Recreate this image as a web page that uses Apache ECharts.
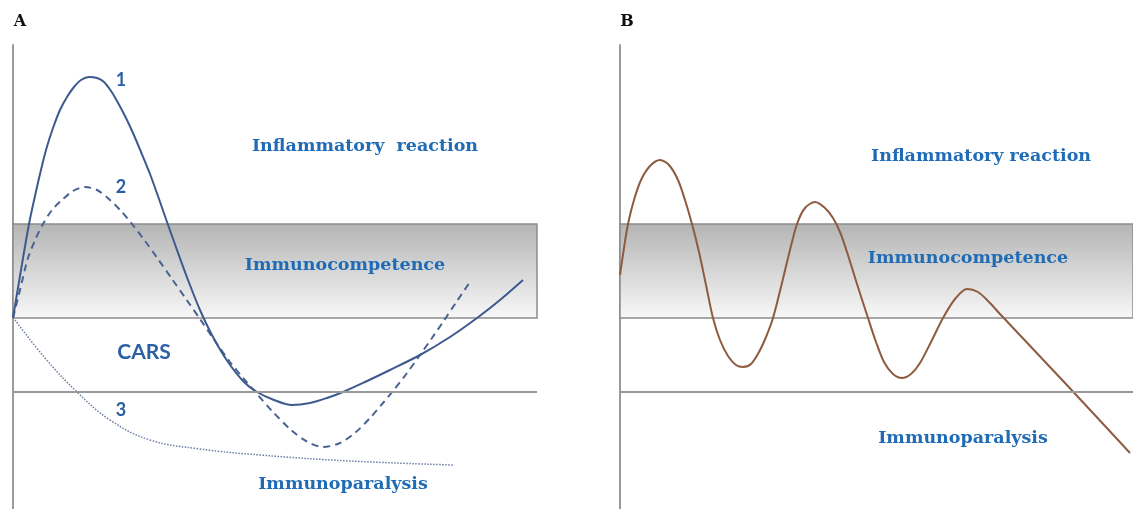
<!DOCTYPE html>
<html><head><meta charset="utf-8">
<script src="https://cdn.jsdelivr.net/npm/echarts@6/dist/echarts.min.js"></script>
<style>html,body{margin:0;padding:0;background:#fff}#c{width:1133px;height:509px}</style>
</head><body><div id="c"></div>
<script>
// Panel A curves: [time, response level]
var curve1 = [[0,191],[8,239],[16,285],[22,313],[27,335],[33,359],[40,381],[47,399],[54,412],[61,422],[68,429],[76,432],[84,431],[91,427],[98,418],[104,408],[112,393],[120,376],[128,357],[137,335],[146,310],[154,287],[164,259],[175,229],[187,199],[200,172],[215,147],[231,127],[244,117],[261,109],[279,104],[297,106],[314,111],[330,117],[352,127],[377,139],[407,154],[437,172],[464,191],[487,209],[510,229]];
var curve2 = [[0,191],[7,219],[15,251],[23,271],[30,285],[39,299],[49,309],[60,318],[72,322],[84,319],[97,309],[108,298],[119,285],[132,268],[145,250],[159,230],[173,210],[187,190],[202,168],[217,147],[231,130],[244,115],[259,98],[277,80],[293,68],[310,62],[327,66],[343,77],[357,91],[370,106],[380,118],[394,136],[407,154],[419,171],[430,187],[444,208],[457,227]];
var curve3 = [[2,189],[32,151],[64,117],[97,89],[137,69],[187,60],[247,54],[337,48],[440,44]];
// Panel B curve
var curveB = [[0,234],[4,261],[8,285],[14,309],[21,329],[30,343],[40,349],[49,344],[58,329],[65,309],[72,285],[79,257],[86,224],[93,191],[100,169],[108,153],[116,144],[123,142],[131,145],[139,157],[146,172],[153,191],[161,222],[169,255],[177,285],[185,301],[195,307],[205,301],[213,291],[220,277],[227,257],[237,225],[248,191],[256,167],[264,147],[273,135],[282,131],[291,135],[300,146],[311,167],[323,191],[335,210],[347,220],[358,217],[369,207],[380,195],[445,126],[510,56]];
// Zone thresholds
var bandLow = 191, bandHigh = 285, paralysisLine = 117;
var yMax = 464, xMaxA = 524, xMaxB = 513;

var chart = echarts.init(document.getElementById('c'));
var bandStyle = {
  color: new echarts.graphic.LinearGradient(0,0,0,1,[{offset:0,color:'#b4b4b4'},{offset:1,color:'#f8f8f8'}]),
  borderColor:'#8c8c8c', borderWidth:1.5
};
function zones(){
  return {
    markArea:{silent:true, itemStyle:bandStyle, data:[[{yAxis:bandLow},{yAxis:bandHigh}]]},
    markLine:{silent:true, symbol:'none', label:{show:false}, lineStyle:{color:'#9a9a9a',width:2,type:'solid'}, data:[{yAxis:paralysisLine}]}
  };
}
var ax = {type:'value', min:0, max:yMax, axisLine:{show:true,lineStyle:{color:'#9a9a9a',width:2}}, axisTick:{show:false}, axisLabel:{show:false}, splitLine:{show:false}};
var serifBlue = {fontFamily:'DejaVu Serif', fontWeight:'bold', fontSize:17.5, fill:'#1f6bb5'};
function txt(x,y,s,style){return {type:'text', z:100, x:x, y:y, style:Object.assign({text:s, align:'center', verticalAlign:'middle'}, style)};}
var sansBlue = {fontFamily:'Lato', fontWeight:'bold', fill:'#2b5fa3'};
var option = {
  animation:false,
  grid:[{left:13, top:45, width:xMaxA, height:464},{left:620, top:45, width:xMaxB, height:464}],
  xAxis:[{gridIndex:0,type:'value',min:0,max:xMaxA,show:false},{gridIndex:1,type:'value',min:0,max:xMaxB,show:false}],
  yAxis:[Object.assign({gridIndex:0},ax),Object.assign({gridIndex:1},ax)],
  series:[
    Object.assign({type:'line', xAxisIndex:0, yAxisIndex:0, data:[], silent:true, z:1}, zones()),
    {type:'line', xAxisIndex:0, yAxisIndex:0, data:curve3, smooth:0.4, showSymbol:false, lineStyle:{color:'#6a7ca6',width:1.5,type:'dotted'}},
    {type:'line', xAxisIndex:0, yAxisIndex:0, data:curve2, smooth:0.3, showSymbol:false, lineStyle:{color:'#4b6391',width:2,type:[7,5]}},
    {type:'line', xAxisIndex:0, yAxisIndex:0, data:curve1, smooth:0.3, showSymbol:false, lineStyle:{color:'#3d5a8e',width:2}},
    Object.assign({type:'line', xAxisIndex:1, yAxisIndex:1, data:[], silent:true, z:1}, zones()),
    {type:'line', xAxisIndex:1, yAxisIndex:1, data:curveB, smooth:0.3, showSymbol:false, lineStyle:{color:'#8d5b3f',width:2}}
  ],
  graphic:[
    txt(20,22,'A',{fontFamily:'DejaVu Serif',fontWeight:'bold',fontSize:16,fill:'#111'}),
    txt(627,22,'B',{fontFamily:'DejaVu Serif',fontWeight:'bold',fontSize:16,fill:'#111'}),
    txt(365,146,'Inflammatory  reaction',serifBlue),
    txt(345,265,'Immunocompetence',serifBlue),
    txt(343,484,'Immunoparalysis',serifBlue),
    txt(981,156,'Inflammatory reaction',serifBlue),
    txt(968,258,'Immunocompetence',serifBlue),
    txt(963,438,'Immunoparalysis',serifBlue),
    txt(144,352,'CARS',Object.assign({fontSize:21},sansBlue)),
    txt(121,80,'1',Object.assign({fontSize:18},sansBlue)),
    txt(121,187,'2',Object.assign({fontSize:18},sansBlue)),
    txt(121,410,'3',Object.assign({fontSize:18},sansBlue))
  ]
};
chart.setOption(option);
</script></body></html>
